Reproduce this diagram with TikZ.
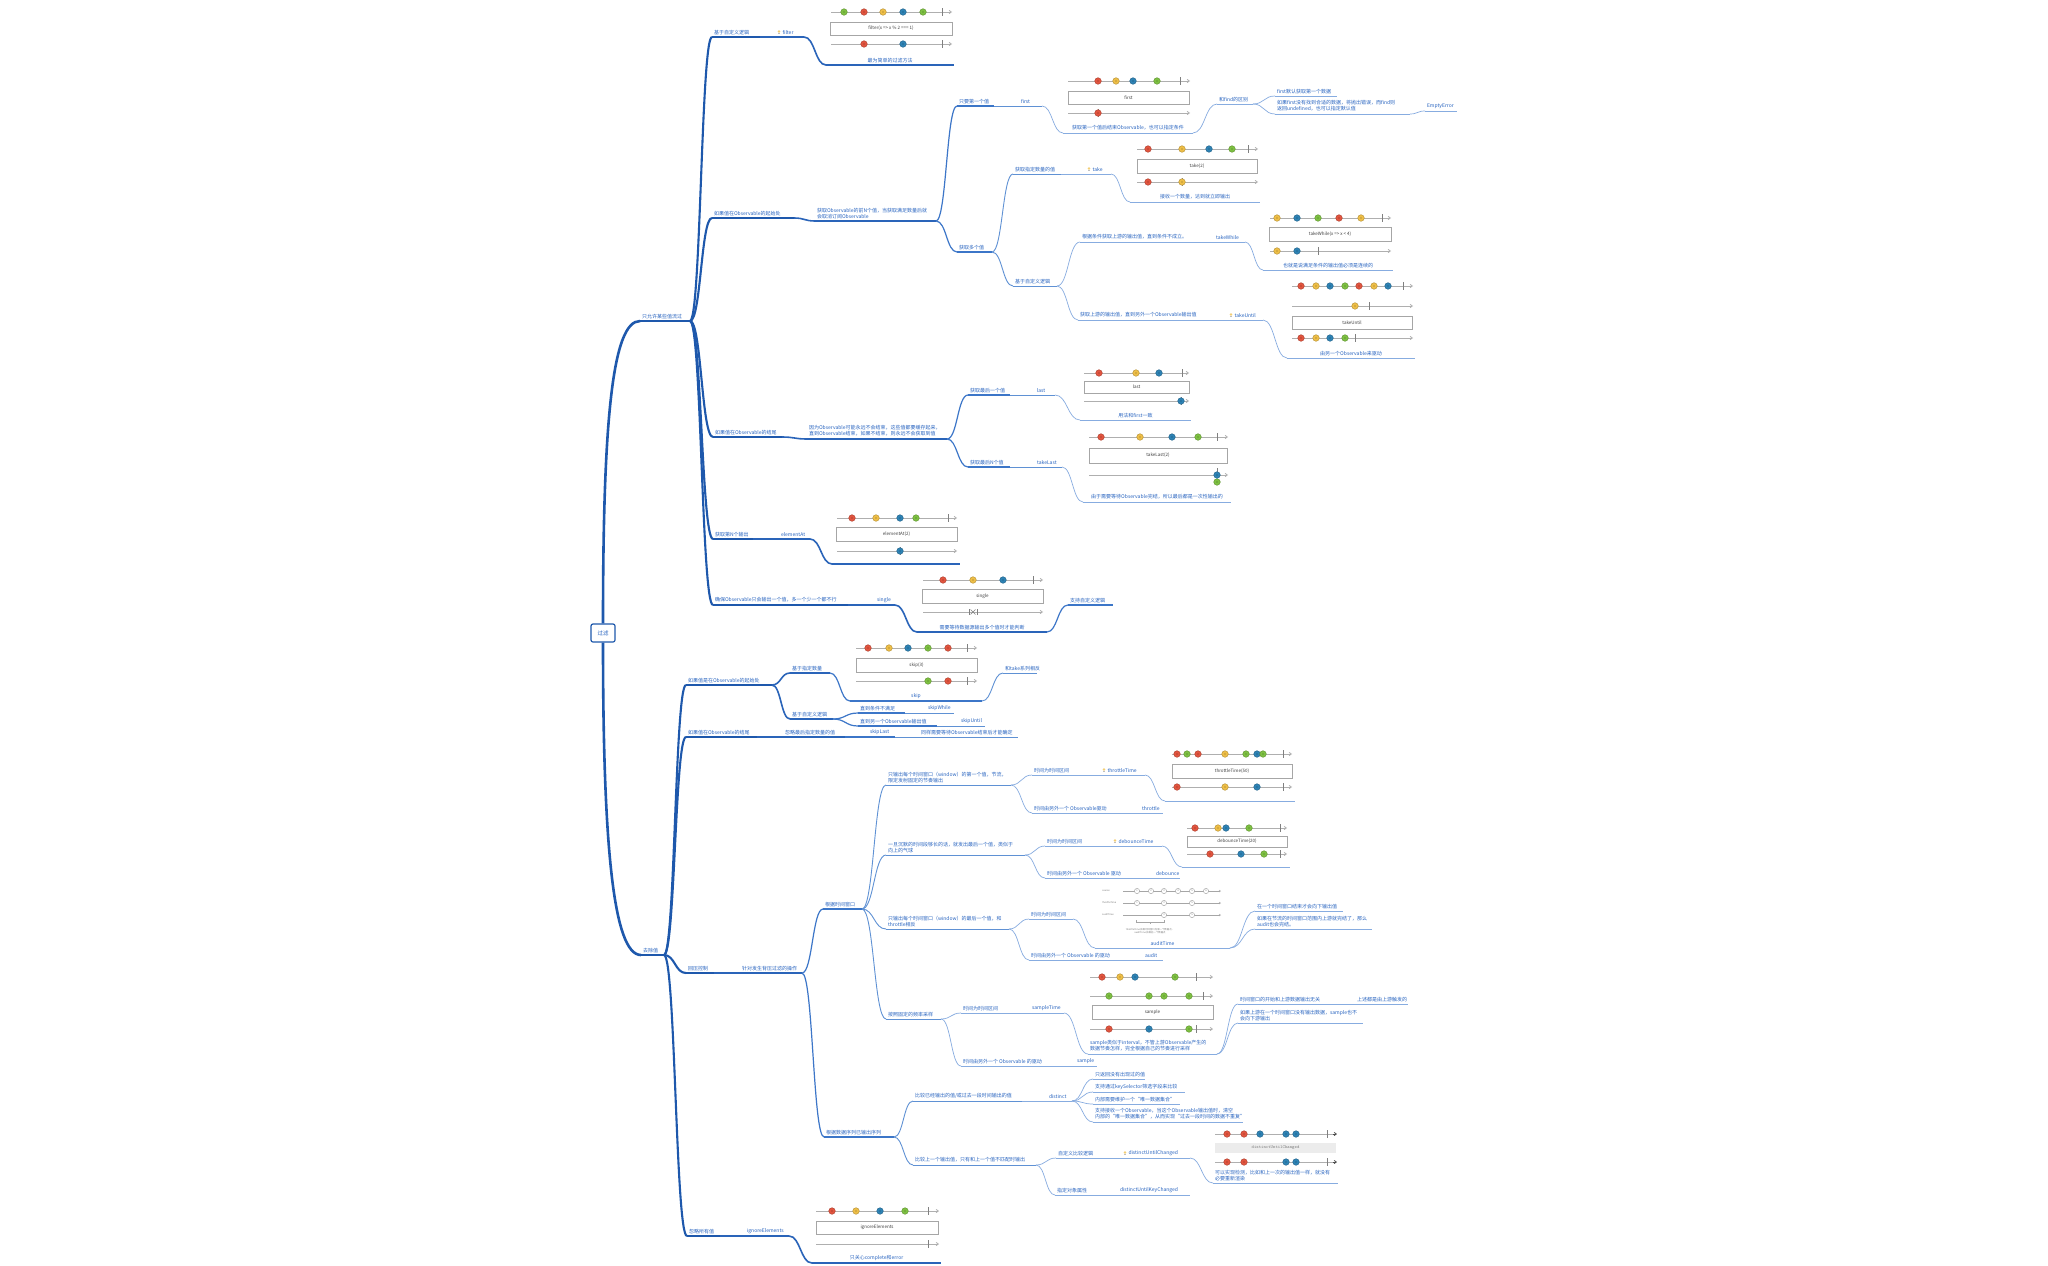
\documentclass[tikz,border=0pt]{standalone}
\usepackage{fontspec}
\setmainfont{Noto Sans CJK SC}
\usetikzlibrary{calc,arrows.meta}

\definecolor{c1}{RGB}{30,88,172}
\definecolor{c2}{RGB}{42,100,185}
\definecolor{c3}{RGB}{60,118,200}
\definecolor{c4}{RGB}{95,145,212}
\definecolor{c5}{RGB}{135,172,224}
\definecolor{txt}{RGB}{40,100,192}
\definecolor{mred}{RGB}{226,84,62}
\definecolor{myel}{RGB}{238,190,70}
\definecolor{mblu}{RGB}{45,130,180}
\definecolor{mgrn}{RGB}{125,192,65}
\definecolor{tlgray}{RGB}{175,175,175}

\tikzset{
  l1/.style={draw=c1, line width=2.6pt},
  l2/.style={draw=c1, line width=2.1pt},
  l3/.style={draw=c2, line width=1.6pt},
  l4/.style={draw=c3, line width=1.2pt},
  l5/.style={draw=c4, line width=0.9pt},
  l6/.style={draw=c5, line width=0.7pt},
  lbl/.style={font=\fontsize{5}{6}\selectfont, text=txt, inner sep=0.3pt, align=left},
  tlin/.style={draw=tlgray, line width=0.8pt, -{Straight Barb[length=2.2pt,width=3.2pt]}},
  tbarst/.style={draw=gray, line width=0.6pt},
  mbox/.style={draw=gray!70, line width=0.7pt, fill=white, font=\fontsize{4.5}{5}\selectfont, text=black!75, inner sep=0pt},
  rootbox/.style={draw=c1, line width=1.2pt, rounded corners=2pt, fill=white, text=txt,
    font=\fontsize{5.5}{6}\selectfont, minimum width=24pt, minimum height=18pt, inner sep=0pt},
  ocirc/.style={fill=white, draw=gray!80, line width=0.4pt},
  tiny/.style={font=\fontsize{2.4}{3}\selectfont, text=gray, inner sep=0pt},
}

% topic: name, x start, x end, y, line style, text (left aligned above its underline)
\newcommand\topic[6]{%
  \coordinate (#1-in) at (#2,#4);
  \coordinate (#1-out) at (#3,#4);
  \draw[#5] (#1-in) -- (#1-out);
  \node[lbl, anchor=south west] (#1) at ({#2+1.5},{#4-2}) {#6};}
% same, text centred over the underline
\newcommand\ctopic[6]{%
  \coordinate (#1-in) at (#2,#4);
  \coordinate (#1-out) at (#3,#4);
  \draw[#5] (#1-in) -- (#1-out);
  \node[lbl, anchor=south, align=center] (#1) at ({(#2+#3)/2},{#4-2}) {#6};}
% small light bulb marker
\newcommand\bulb[2]{%
  \fill[myel!75] (#1,#2) circle[radius=1.4pt];
  \fill[gray!50] ({#1-0.7},{#2+1.2}) rectangle ({#1+0.7},{#2+2.3});}
% topic with a bulb before its text
\newcommand\btopic[6]{%
  \coordinate (#1-in) at (#2,#4);
  \coordinate (#1-out) at (#3,#4);
  \draw[#5] (#1-in) -- (#1-out);
  \bulb{#2+3}{#4-5.5}
  \node[lbl, anchor=south west] (#1) at ({#2+6},{#4-2}) {#6};}
% curved connector from the end of one topic to the start of another
\newcommand\link[3]{%
  \draw[#3] let \p1=(#1-out), \p2=(#2-in), \n1={0.5*(\x2-\x1)} in
    (\p1) .. controls (\x1+\n1,\y1) and (\x2-\n1,\y2) .. (\p2);}

% marble diagram helpers
\newcommand\tline[3]{\draw[tlin] (#1,#3) -- (#2,#3);}
\newcommand\tbar[2]{\draw[tbarst] (#1,{#2-4}) -- (#1,{#2+4});}
\newcommand\mb[3]{%
  \filldraw[fill=#3, draw=#3!75!black, line width=0.4pt] (#1,#2) circle[radius=3.3pt];
  \fill[#3!55!black] (#1,#2) circle[radius=0.6pt];}
\newcommand\oc[3]{%
  \filldraw[ocirc] (#1,#2) circle[radius=2.6pt];
  \node[tiny] at (#1,#2) {#3};}

\begin{document}
\begin{tikzpicture}[x=1pt, y=-1pt]
\useasboundingbox (0,0) rectangle (2048,1266);
\fill[white] (0,0) rectangle (2048,1266);

% ---------------- root ----------------
\node[rootbox] (root) at (603,633) {过滤};

% ================= upper half: values that may pass =================
\topic{U}{640}{690}{321}{l1}{只允许某些值流过}
\draw[l1] (root.north) .. controls ($(root.north)+(0,-200)$) and ($(U-in)+(-28,0)$) .. (U-in);

% --- custom logic: filter
\topic{A1}{712}{760}{37}{l2}{基于自定义逻辑}
\btopic{A1f}{776}{804}{37}{l3}{filter}
\ctopic{A1n}{826}{954}{65}{l3}{最为简单的过滤方法}
\link{U}{A1}{l2}\link{A1}{A1f}{l3}\link{A1f}{A1n}{l3}

\tline{831}{952}{12}\tbar{942}{12}
\mb{844}{12}{mgrn}\mb{864}{12}{mred}\mb{883}{12}{myel}\mb{903}{12}{mblu}\mb{923}{12}{mgrn}
\node[mbox, minimum width=122pt, minimum height=13pt] (bxfilter) at (891,28.5) {filter(x => x \% 2 === 1)};
\tline{831}{952}{44}\tbar{942}{44}
\mb{864}{44}{mred}\mb{903}{44}{mblu}

% --- start of the Observable
\topic{A2}{712}{794}{218}{l2}{如果值在Observable的起始处}
\topic{A2a}{815}{936}{221}{l3}{获取Observable的前N个值，当获取满足数量后就\\会取消订阅Observable}
\topic{A2b}{957}{994}{106}{l4}{只要第一个值}
\topic{A2c}{1019}{1042}{106}{l5}{first}
\ctopic{A2d}{1063}{1193}{133}{l6}{获取第一个值后结束Observable，也可以指定条件}
\topic{A2e}{1217}{1253}{104}{l6}{和find的区别}
\topic{A2f}{1275}{1337}{96}{l6}{first默认获取第一个数据}
\topic{A2g}{1275}{1410}{114}{l6}{如果first没有找到合适的数据，将抛出错误，而find则\\返回undefined，也可以指定默认值}
\topic{A2h}{1425}{1457}{111}{l6}{EmptyError}
\topic{A2i}{957}{992}{252}{l4}{获取多个值}
\topic{A2j}{1013}{1061}{174}{l5}{获取指定数量的值}
\btopic{A2k}{1086}{1111}{174}{l6}{take}
\ctopic{A2l}{1130}{1260}{202}{l6}{接收一个数量，达到就立即输出}
\topic{A2m}{1013}{1057}{286}{l5}{基于自定义逻辑}
\topic{A2n}{1080}{1213}{242}{l6}{根据条件获取上游的输出值，直到条件不成立。}
\topic{A2o}{1214}{1245}{242}{l6}{takeWhile}
\ctopic{A2p}{1263}{1393}{270}{l6}{也就是说满足条件的输出值必须是连续的}
\topic{A2q}{1078}{1213}{320}{l6}{获取上游的输出值，直到另外一个Observable输出值}
\btopic{A2r}{1228}{1263}{320}{l6}{takeUntil}
\ctopic{A2s}{1287}{1415}{358}{l6}{由另一个Observable来驱动}
\link{U}{A2}{l2}\link{A2}{A2a}{l3}
\link{A2a}{A2b}{l4}\link{A2a}{A2i}{l4}
\link{A2b}{A2c}{l5}\link{A2c}{A2d}{l6}\link{A2d}{A2e}{l6}
\link{A2e}{A2f}{l6}\link{A2e}{A2g}{l6}\link{A2g}{A2h}{l6}
\link{A2i}{A2j}{l5}\link{A2i}{A2m}{l5}
\link{A2j}{A2k}{l6}\link{A2k}{A2l}{l6}
\link{A2m}{A2n}{l6}\link{A2n}{A2o}{l6}\link{A2o}{A2p}{l6}
\link{A2m}{A2q}{l6}\link{A2q}{A2r}{l6}\link{A2r}{A2s}{l6}

% first
\tline{1068}{1190}{81}\tbar{1180}{81}
\mb{1098}{81}{mred}\mb{1116}{81}{myel}\mb{1133}{81}{mblu}\mb{1157}{81}{mgrn}
\node[mbox, minimum width=121pt, minimum height=13pt] (bxfirst) at (1128.5,97.5) {first};
\tline{1068}{1190}{113}\tbar{1098}{113}\mb{1098}{113}{mred}
% take(2)
\tline{1137}{1258}{149}\tbar{1248}{149}
\mb{1148}{149}{mred}\mb{1182}{149}{myel}\mb{1209}{149}{mblu}\mb{1232}{149}{mgrn}
\node[mbox, minimum width=120pt, minimum height=14pt] (bxtake) at (1197,166) {take(2)};
\tline{1137}{1258}{182}\tbar{1182}{182}\mb{1148}{182}{mred}\mb{1182}{182}{myel}
% takeWhile
\tline{1270}{1391}{218}\tbar{1382}{218}
\mb{1277}{218}{myel}\mb{1297}{218}{mblu}\mb{1318}{218}{mgrn}\mb{1339}{218}{mred}\mb{1361}{218}{myel}
\node[mbox, minimum width=122pt, minimum height=14pt] (bxtw) at (1330,234) {takeWhile(x => x < 4)};
\tline{1270}{1391}{251}\tbar{1318}{251}\mb{1277}{251}{myel}\mb{1297}{251}{mblu}
% takeUntil
\tline{1292}{1413}{286}\tbar{1403}{286}
\mb{1301}{286}{mred}\mb{1316}{286}{myel}\mb{1330}{286}{mblu}\mb{1345}{286}{mgrn}
\mb{1359}{286}{mred}\mb{1374}{286}{myel}\mb{1388}{286}{mblu}
\tline{1292}{1413}{306}\tbar{1369}{306}\mb{1355}{306}{myel}
\node[mbox, minimum width=120pt, minimum height=13pt] (bxtu) at (1352,322.5) {takeUntil};
\tline{1292}{1413}{338}\tbar{1355}{338}
\mb{1301}{338}{mred}\mb{1316}{338}{myel}\mb{1330}{338}{mblu}\mb{1345}{338}{mgrn}

% --- end of the Observable
\topic{A3}{713}{782}{437}{l2}{如果值在Observable的结尾}
\topic{A3a}{807}{947}{439}{l3}{因为Observable可能永远不会结束，这些值都要缓存起来，\\直到Observable结束，如果不结束，则永远不会获取到值}
\topic{A3b}{968}{1010}{395}{l4}{获取最后一个值}
\topic{A3c}{1035}{1055}{395}{l5}{last}
\ctopic{A3d}{1080}{1191}{420}{l6}{用法和first一致}
\topic{A3e}{968}{1010}{467}{l4}{获取最后N个值}
\topic{A3f}{1035}{1062}{467}{l5}{takeLast}
\ctopic{A3g}{1083}{1231}{502}{l6}{由于需要等待Observable完结，所以最后都是一次性输出的}
\link{U}{A3}{l2}\link{A3}{A3a}{l3}
\link{A3a}{A3b}{l4}\link{A3b}{A3c}{l5}\link{A3c}{A3d}{l6}
\link{A3a}{A3e}{l4}\link{A3e}{A3f}{l5}\link{A3f}{A3g}{l6}

% last
\tline{1084}{1189}{373}\tbar{1182}{373}
\mb{1099}{373}{mred}\mb{1136}{373}{myel}\mb{1159}{373}{mblu}
\node[mbox, minimum width=105pt, minimum height=12pt] (bxlast) at (1136.5,387) {last};
\tline{1084}{1189}{401}\tbar{1181}{401}\mb{1181}{401}{mblu}
% takeLast(2)
\tline{1089}{1228}{437}\tbar{1217}{437}
\mb{1101}{437}{mred}\mb{1140}{437}{myel}\mb{1172}{437}{mblu}\mb{1198}{437}{mgrn}
\node[mbox, minimum width=138pt, minimum height=15pt] (bxtl) at (1158,455.5) {takeLast(2)};
\tline{1089}{1228}{475}\tbar{1217}{472}\mb{1217}{482}{mgrn}\mb{1217}{475}{mblu}

% --- n-th value
\topic{A4}{713}{753}{539}{l2}{获取第N个输出}
\topic{A4a}{779}{810}{539}{l3}{elementAt}
\topic{A4b}{832}{960}{564}{l3}{}
\link{U}{A4}{l2}\link{A4}{A4a}{l3}\link{A4a}{A4b}{l3}
\tline{837}{957}{518}\tbar{948}{518}
\mb{852}{518}{mred}\mb{876}{518}{myel}\mb{900}{518}{mblu}\mb{916}{518}{mgrn}
\node[mbox, minimum width=121pt, minimum height=14pt] (bxea) at (896.5,534) {elementAt(2)};
\tline{837}{957}{551}\tbar{900}{551}\mb{900}{551}{mblu}

% --- exactly one value
\topic{A5}{713}{848}{605}{l2}{确保Observable只会输出一个值，多一个少一个都不行}
\topic{A5a}{875}{895}{605}{l3}{single}
\ctopic{A5b}{917}{1047}{632}{l3}{需要等待数据源输出多个值时才能判断}
\topic{A5c}{1068}{1113}{605}{l4}{支持自定义逻辑}
\link{U}{A5}{l2}\link{A5}{A5a}{l3}\link{A5a}{A5b}{l3}\link{A5b}{A5c}{l4}
\tline{923}{1043}{580}\tbar{1033}{580}
\mb{943}{580}{mred}\mb{973}{580}{myel}\mb{1003}{580}{mblu}
\node[mbox, minimum width=121pt, minimum height=14pt] (bxsingle) at (982.5,596) {single};
\tline{923}{1043}{612}
\draw[gray, line width=0.5pt] (970.5,609.5) -- (975.5,614.5) (970.5,614.5) -- (975.5,609.5);
\draw[tbarst] (969,609) -- (969,615) (977,609) -- (977,615);

% ================= lower half: values that are dropped =================
\topic{R}{641}{664}{955}{l1}{去除值}
\draw[l1] (root.south) .. controls ($(root.south)+(0,200)$) and ($(R-in)+(-28,0)$) .. (R-in);

% --- start of the Observable
\topic{B1}{686}{772}{685}{l2}{如果值是在Observable的起始处}
\topic{B1a}{790}{830}{673}{l3}{基于指定数量}
\ctopic{B1b}{850}{982}{701}{l4}{skip}
\topic{B1c}{1003}{1037}{673}{l5}{和take系列相反}
\topic{B1d}{790}{833}{719}{l3}{基于自定义逻辑}
\topic{B1e}{858}{905}{713}{l4}{直到条件不满足}
\topic{B1f}{926}{954}{713}{l5}{skipWhile}
\topic{B1g}{858}{937}{726}{l4}{直到另一个Observable输出值}
\topic{B1h}{959}{985}{726}{l5}{skipUntil}
\link{R}{B1}{l2}\link{B1}{B1a}{l3}\link{B1a}{B1b}{l4}\link{B1b}{B1c}{l5}
\link{B1}{B1d}{l3}\link{B1d}{B1e}{l4}\link{B1e}{B1f}{l5}
\link{B1d}{B1g}{l4}\link{B1g}{B1h}{l5}
\tline{856}{977}{648}\tbar{967}{648}
\mb{868}{648}{mred}\mb{889}{648}{myel}\mb{908}{648}{mblu}\mb{928}{648}{mgrn}\mb{948}{648}{mred}
\node[mbox, minimum width=121pt, minimum height=14pt] (bxskip) at (916.5,665) {skip(3)};
\tline{856}{977}{681}\tbar{967}{681}\mb{928}{681}{mgrn}\mb{948}{681}{mred}

% --- end of the Observable
\topic{B2}{686}{757}{737}{l2}{如果值在Observable的结尾}
\topic{B2a}{783}{845}{737}{l3}{忽略最后指定数量的值}
\topic{B2b}{868}{895}{737}{l4}{skipLast}
\topic{B2c}{919}{1018}{737}{l5}{同样需要等待Observable结束后才能确定}
\link{R}{B2}{l2}\link{B2}{B2a}{l3}\link{B2a}{B2b}{l4}\link{B2b}{B2c}{l5}

% --- back-pressure
\topic{B3}{686}{714}{973}{l2}{回压控制}
\topic{B3a}{740}{802}{973}{l3}{针对发生背压过滤的操作}
\topic{B3b}{823}{862}{909}{l4}{根据时间窗口}
\link{R}{B3}{l2}\link{B3}{B3a}{l3}\link{B3a}{B3b}{l4}

% throttle
\topic{T1}{886}{1011}{785}{l5}{只输出每个时间窗口（window）的第一个值，节流，\\限定发射固定的节奏输出}
\topic{T1a}{1032}{1075}{775}{l6}{时间为时间区间}
\btopic{T1b}{1101}{1145}{775}{l6}{throttleTime}
\topic{T1c}{1165}{1295}{801}{l6}{}
\topic{T1d}{1032}{1114}{813}{l6}{时间由另外一个 Observable驱动}
\topic{T1e}{1140}{1163}{813}{l6}{throttle}
\link{B3b}{T1}{l5}\link{T1}{T1a}{l6}\link{T1a}{T1b}{l6}\link{T1b}{T1c}{l6}
\link{T1}{T1d}{l6}\link{T1d}{T1e}{l6}
\tline{1172}{1292}{754}\tbar{1283}{754}
\mb{1177}{754}{mred}\mb{1187}{754}{mgrn}\mb{1198}{754}{mred}\mb{1225}{754}{myel}
\mb{1246}{754}{mgrn}\mb{1257}{754}{mblu}\mb{1263}{754}{mgrn}
\node[mbox, minimum width=120pt, minimum height=14pt] (bxthr) at (1232,771) {throttleTime(50)};
\tline{1172}{1292}{787}\tbar{1283}{787}\mb{1177}{787}{mred}\mb{1225}{787}{myel}\mb{1257}{787}{mblu}

% debounce
\topic{T2}{886}{1025}{855}{l5}{一旦沉默的时间段够长的话，就发出最后一个值，类似于\\向上的气球}
\topic{T2a}{1045}{1088}{846}{l6}{时间为时间区间}
\btopic{T2b}{1112}{1162}{846}{l6}{debounceTime}
\topic{T2c}{1182}{1290}{867}{l6}{}
\topic{T2d}{1045}{1129}{878}{l6}{时间由另外一个 Observable 驱动}
\topic{T2e}{1154}{1180}{878}{l6}{debounce}
\link{B3b}{T2}{l5}\link{T2}{T2a}{l6}\link{T2a}{T2b}{l6}\link{T2b}{T2c}{l6}
\link{T2}{T2d}{l6}\link{T2d}{T2e}{l6}
\tline{1187}{1287}{828}\tbar{1280}{828}
\mb{1195}{828}{mred}\mb{1218}{828}{myel}\mb{1226}{828}{mblu}\mb{1249}{828}{mgrn}
\node[mbox, minimum width=100pt, minimum height=11pt] (bxdeb) at (1237,841.5) {debounceTime(20)};
\tline{1187}{1287}{854}\tbar{1280}{854}\mb{1210}{854}{mred}\mb{1241}{854}{mblu}\mb{1264}{854}{mgrn}

% audit
\topic{T3}{886}{1009}{929}{l5}{只输出每个时间窗口（window）的最后一个值，和\\throttle相反}
\topic{T3a}{1029}{1073}{919}{l6}{时间为时间区间}
\ctopic{T3b}{1095}{1230}{948}{l6}{auditTime}
\topic{T3c}{1255}{1343}{911}{l6}{在一个时间窗口结束才会向下输出值}
\topic{T3d}{1255}{1372}{929}{l6}{如果在节流的时间窗口范围内上游就完结了，那么\\audit也会完结。}
\topic{T3e}{1029}{1118}{960}{l6}{时间由另外一个 Observable 的驱动}
\topic{T3f}{1143}{1163}{960}{l6}{audit}
\link{B3b}{T3}{l5}\link{T3}{T3a}{l6}\link{T3a}{T3b}{l6}
\link{T3b}{T3c}{l6}\link{T3b}{T3d}{l6}
\link{T3}{T3e}{l6}\link{T3e}{T3f}{l6}
\foreach \yy/\lab in {891/source, 903/throttleTime, 915/auditTime}{
  \node[tiny, anchor=west] at (1102,\yy) {\lab};
  \draw[draw=gray!70, line width=0.5pt, -{Straight Barb[length=1.5pt,width=2pt]}] (1123,\yy) -- (1221,\yy);}
\oc{1137}{891}{1}\oc{1151}{891}{2}\oc{1164}{891}{3}\oc{1178}{891}{4}\oc{1192}{891}{5}\oc{1206}{891}{6}
\oc{1137}{903}{1}\oc{1164}{903}{3}\oc{1192}{903}{5}
\oc{1164}{915}{3}\oc{1192}{915}{5}
\draw[gray!70, line width=0.4pt] (1136,920) -- (1136,922) -- (1164,922) -- (1164,920) (1150,922) -- (1150,924);
\node[tiny, align=center] at (1150,931.5) {throttleTime 获取时间窗口内第一个数据点，\\auditTime 获取后一个数据点};

% sample
\topic{T4}{886}{941}{1019}{l5}{按照固定的频率采样}
\topic{T4a}{961}{1005}{1013}{l6}{时间为时间区间}
\topic{T4b}{1030}{1064}{1013}{l6}{sampleTime}
\topic{T4c}{1088}{1217}{1054}{l6}{sample类似于interval，不管上游Observable产生的\\数据节奏怎样，完全根据自己的节奏进行采样}
\topic{T4d}{1238}{1327}{1004}{l6}{时间窗口的开始和上游数据输出无关}
\topic{T4e}{1355}{1408}{1004}{l6}{上述都是由上游触发的}
\topic{T4f}{1238}{1363}{1023}{l6}{如果上游在一个时间窗口没有输出数据，sample也不\\会向下游输出}
\topic{T4g}{961}{1051}{1066}{l6}{时间由另外一个 Observable 的驱动}
\topic{T4h}{1075}{1097}{1066}{l6}{sample}
\link{B3b}{T4}{l5}\link{T4}{T4a}{l6}\link{T4a}{T4b}{l6}\link{T4b}{T4c}{l6}
\link{T4c}{T4d}{l6}\link{T4d}{T4e}{l6}\link{T4c}{T4f}{l6}
\link{T4}{T4g}{l6}\link{T4g}{T4h}{l6}
\tline{1090}{1213}{977}\tbar{1196}{977}
\mb{1102}{977}{mred}\mb{1120}{977}{myel}\mb{1135}{977}{mblu}\mb{1175}{977}{mgrn}
\tline{1090}{1213}{996}\tbar{1203}{996}
\mb{1109}{996}{mgrn}\mb{1149}{996}{mgrn}\mb{1164}{996}{mgrn}\mb{1189}{996}{mgrn}
\node[mbox, minimum width=121pt, minimum height=14pt] (bxsample) at (1152.5,1012) {sample};
\tline{1090}{1213}{1029}\tbar{1196}{1029}
\mb{1109}{1029}{mred}\mb{1149}{1029}{mblu}\mb{1189}{1029}{mgrn}

% by the sequence already emitted
\topic{B3c}{824}{894}{1137}{l4}{根据数据序列已输出序列}
\topic{D1}{913}{1022}{1101}{l5}{比较已经输出的值/或过去一段时间输出的值}
\topic{D1a}{1047}{1072}{1101}{l6}{distinct}
\topic{D1b}{1093}{1145}{1079}{l6}{只返回没有出现过的值}
\topic{D1c}{1093}{1185}{1092}{l6}{支持通过keySelector筛选字段来比较}
\topic{D1d}{1093}{1180}{1104}{l6}{内部需要维护一个“唯一数据集合”}
\topic{D1e}{1093}{1243}{1122}{l6}{支持接收一个Observable，当这个Observable输出值时，清空\\内部的“唯一数据集合”，从而实现“过去一段时间的数据不重复”}
\topic{D2}{913}{1036}{1165}{l5}{比较上一个输出值，只有和上一个值不匹配时输出}
\topic{D2a}{1056}{1101}{1158}{l6}{自定义比较逻辑}
\btopic{D2b}{1122}{1190}{1158}{l6}{distinctUntilChanged}
\topic{D2c}{1213}{1338}{1183}{l6}{可以实现检测，比如和上一次的输出值一样，就没有\\必要重新渲染}
\topic{D2d}{1055}{1093}{1195}{l6}{指定对象属性}
\topic{D2e}{1118}{1190}{1195}{l6}{distinctUntilKeyChanged}
\link{B3a}{B3c}{l4}\link{B3c}{D1}{l5}\link{D1}{D1a}{l6}
\link{D1a}{D1b}{l6}\link{D1a}{D1c}{l6}\link{D1a}{D1d}{l6}\link{D1a}{D1e}{l6}
\link{B3c}{D2}{l5}\link{D2}{D2a}{l6}\link{D2a}{D2b}{l6}\link{D2b}{D2c}{l6}
\link{D2}{D2d}{l6}\link{D2d}{D2e}{l6}
\draw[draw=tlgray, line width=0.8pt, -{Straight Barb[length=2.2pt,width=3.2pt]}, black!70] (1215,1134) -- (1337,1134);
\draw[draw=tlgray, line width=0.8pt] (1215,1134) -- (1333,1134);
\tbar{1327}{1134}
\mb{1227}{1134}{mred}\mb{1244}{1134}{mred}\mb{1260}{1134}{mblu}\mb{1286}{1134}{mblu}\mb{1296}{1134}{mblu}
\node[fill=gray!15, minimum width=121pt, minimum height=10pt, inner sep=0pt, text=gray,
  font=\ttfamily\fontsize{4.5}{5}\selectfont] (bxduc) at (1275.5,1148) {distinctUntilChanged};
\draw[line width=0.8pt, -{Straight Barb[length=2.2pt,width=3.2pt]}, black!70] (1333,1162) -- (1337,1162);
\draw[draw=tlgray, line width=0.8pt] (1215,1162) -- (1333,1162);
\tbar{1327}{1162}
\mb{1227}{1162}{mred}\mb{1244}{1162}{mred}\mb{1286}{1162}{mblu}\mb{1296}{1162}{mblu}

% --- ignore everything
\topic{B4}{687}{720}{1236}{l2}{忽略所有值}
\topic{B4a}{745}{789}{1236}{l3}{ignoreElements}
\ctopic{B4b}{812}{941}{1263}{l3}{只关心complete和error}
\link{R}{B4}{l2}\link{B4}{B4a}{l3}\link{B4a}{B4b}{l3}
\tline{816}{939}{1211}\tbar{928}{1211}
\mb{832}{1211}{mred}\mb{856}{1211}{myel}\mb{880}{1211}{mblu}\mb{905}{1211}{mgrn}
\node[mbox, minimum width=122pt, minimum height=13pt] (bxign) at (877,1227.5) {ignoreElements};
\tline{816}{939}{1244}\tbar{928}{1244}

\end{tikzpicture}
\end{document}
